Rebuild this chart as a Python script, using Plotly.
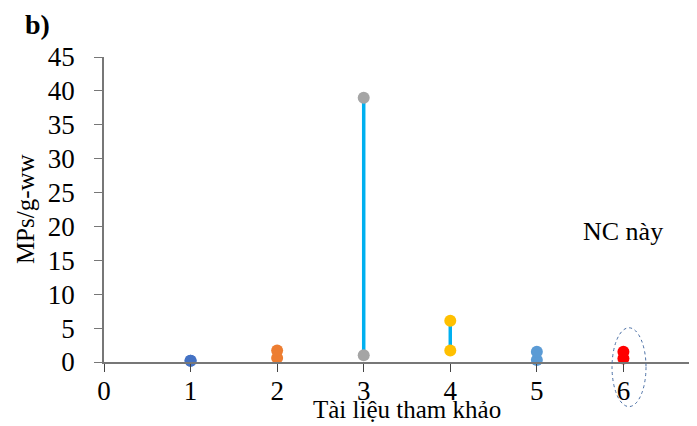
import plotly.graph_objects as go

refs = [1, 2, 3, 4, 5, 6]
low_vals = [0.2, 0.6, 1.0, 1.7, 0.3, 0.5]
high_vals = [0.2, 1.7, 39.0, 6.1, 1.5, 1.5]
marker_colors = ["#4472C4", "#ED7D31", "#A5A5A5", "#FFC000", "#5B9BD5", "#FF0000"]
line_color = "#00B0F0"
x_ticks = [0, 1, 2, 3, 4, 5, 6]
y_ticks = [0, 5, 10, 15, 20, 25, 30, 35, 40, 45]

font_family = "Liberation Serif, Times New Roman, serif"

fig = go.Figure()

for x, lo, hi in zip(refs, low_vals, high_vals):
    fig.add_trace(go.Scatter(
        x=[x, x], y=[lo, hi], mode="lines",
        line=dict(color=line_color, width=3.5),
        showlegend=False, hoverinfo="skip"))
for x, lo, hi, c in zip(refs, low_vals, high_vals, marker_colors):
    fig.add_trace(go.Scatter(
        x=[x, x], y=[lo, hi], mode="markers",
        marker=dict(color=c, size=12),
        showlegend=False, cliponaxis=False))

# dotted ellipse around reference 6 (this study)
fig.add_shape(type="circle", xref="paper", yref="paper",
              x0=0.8567, x1=0.914, y0=-0.1462, y1=0.1122,
              line=dict(color="#4A6FA5", width=1, dash="dot"))

fig.add_annotation(x=6.0, y=19.2, text="NC này", showarrow=False,
                   font=dict(family=font_family, size=26, color="black"))
fig.add_annotation(x=-0.136, y=1.1063, xref="paper", yref="paper", text="<b>b)</b>",
                   showarrow=False, xanchor="left", yanchor="middle",
                   font=dict(family=font_family, size=28, color="black"))
fig.add_annotation(xref="paper", yref="paper", x=0.511, y=-0.1543,
                   text="Tài liệu tham khảo", showarrow=False,
                   xanchor="center", yanchor="middle",
                   font=dict(family=font_family, size=25, color="black"))
fig.add_annotation(xref="paper", yref="paper", x=-0.1332, y=0.5013,
                   text="MPs/g-ww", showarrow=False, textangle=-90,
                   xanchor="center", yanchor="middle",
                   font=dict(family=font_family, size=25, color="black"))

fig.update_layout(
    width=689, height=418,
    margin=dict(l=96, r=0, t=48.5, b=63.7, pad=0),
    paper_bgcolor="white", plot_bgcolor="white",
    font=dict(family=font_family, size=27, color="black"),
    xaxis=dict(range=[0, 6.85], tickvals=x_ticks, ticks="outside", ticklen=8,
               tickcolor="#444", tickwidth=1.2, showline=True, linecolor="#777",
               linewidth=1.5, showgrid=False, zeroline=False,
               tickfont=dict(size=27), ticklabelstandoff=-4),
    yaxis=dict(range=[0, 45], tickvals=y_ticks, ticks="outside", ticklen=8,
               tickcolor="#777", tickwidth=1.2, showline=True, linecolor="#777",
               linewidth=1.5, showgrid=False, zeroline=False,
               tickfont=dict(size=27), ticklabelstandoff=14),
)

fig.write_html("out.html")
